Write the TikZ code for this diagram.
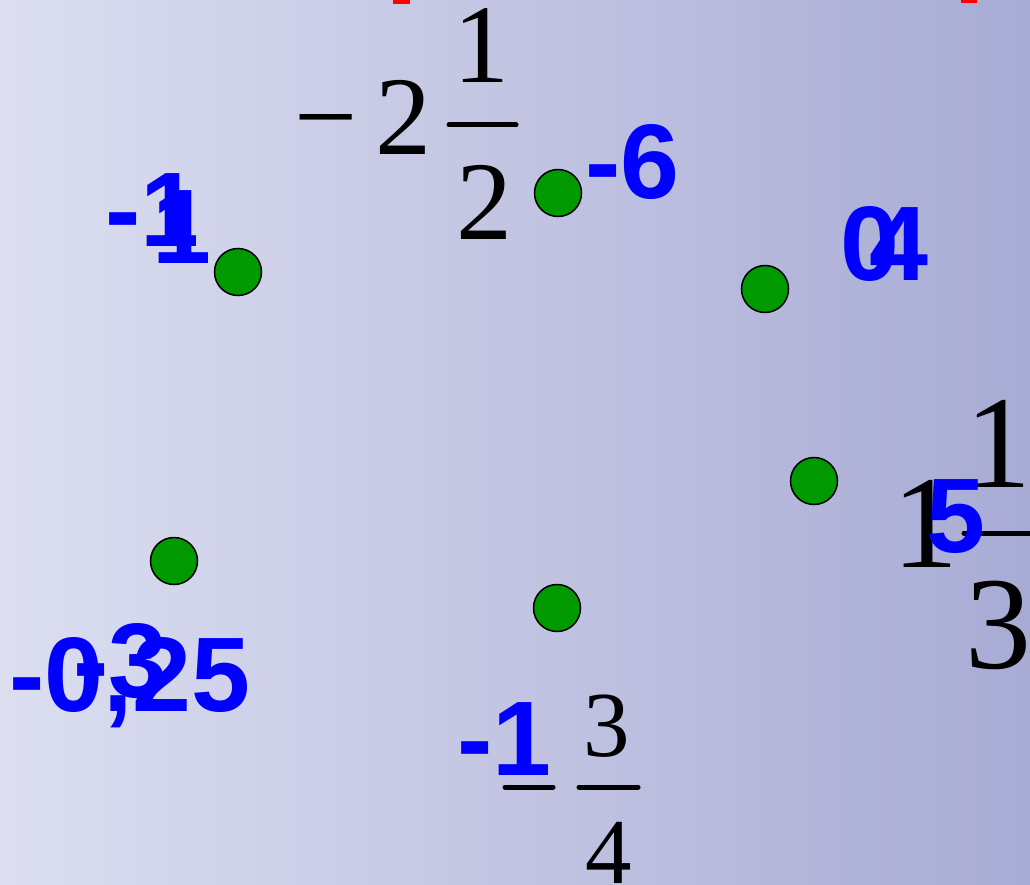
\documentclass[tikz,border=0pt]{standalone}
\usepackage{fontspec}
\newfontfamily\sansfam{Liberation Sans}
\newfontfamily\seriffam{Liberation Serif}
\definecolor{bgl}{RGB}{220,222,240}
\definecolor{bgr}{RGB}{168,171,212}
\definecolor{dotgreen}{RGB}{0,153,0}
\definecolor{lblue}{RGB}{0,0,255}
\definecolor{mred}{RGB}{255,0,0}
\begin{document}
\begin{tikzpicture}[x=1pt,y=-1pt,
  bl/.style={text=lblue, font=\sansfam\bfseries\fontsize{106}{106}\selectfont, inner sep=0pt, anchor=base west},
  bk/.style={text=black, font=\seriffam\fontsize{112}{112}\selectfont, inner sep=0pt, anchor=base},
  bkl/.style={bk, font=\seriffam\fontsize{132}{132}\selectfont},
  bks/.style={bk, font=\seriffam\fontsize{93}{93}\selectfont},
  fbar/.style={line width=5pt, line cap=round},
  dot/.style={circle, draw=black, line width=1.5pt, fill=dotgreen, minimum size=47pt, inner sep=0pt}]
\useasboundingbox (0,0) rectangle (1030,885);
\clip (0,0) rectangle (1030,885);
\shade[left color=bgl, right color=bgr] (0,0) rectangle (1030,885);
% red marks at top
\fill[mred] (393,0) rectangle (410,4);
\fill[mred] (961,0) rectangle (977,3);
% green dots
\node[dot] (d1) at (238,272) {};
\node[dot] (d2) at (558,193) {};
\node[dot] (d3) at (765,289) {};
\node[dot] (d4) at (814,481) {};
\node[dot] (d5) at (174,561) {};
\node[dot] (d6) at (557,608) {};
% black mixed number -2 1/2
\node[bk] (m1) at (326,155) {−};
\node[bk] (m2) at (403,155) {2};
\coordinate (b1l) at (449,125);
\coordinate (b1r) at (516,125);
\draw[fbar] (b1l) -- (b1r);
\node[bk] (m3) at (481,83) {1};
\node[bk] (m4) at (484,240) {2};
% black 1 1/3
\node[bkl] (r1) at (925,567) {1};
\coordinate (b2l) at (964,533);
\coordinate (b2r) at (1040,533);
\draw[fbar] (b2l) -- (b2r);
\node[bkl] (r2) at (998,487) {1};
\node[bkl] (r3) at (998,668) {3};
% black - 3/4
\coordinate (b3l) at (505,787);
\coordinate (b3r) at (553,787);
\draw[fbar] (b3l) -- (b3r);
\coordinate (b4l) at (579,787);
\coordinate (b4r) at (638,787);
\draw[fbar] (b4l) -- (b4r);
\node[bks] (q1) at (607,756) {3};
\node[bks] (q2) at (609,883) {4};
% blue labels
\node[bl] (l1) at (105,247) {-1};
\node[bl] (l2) at (152,263) {1};
\node[bl] (l3) at (585,199) {-6};
\node[bl] (l4) at (840,280) {0};
\node[bl] (l5) at (869,280) {4};
\node[bl] (l6) at (926,552) {5};
\node[bl] (l7) at (9,711) {-0,25};
\node[bl] (l8) at (73,697) {-3};
\node[bl] (l9) at (457,775) {-1};
\end{tikzpicture}
\end{document}
